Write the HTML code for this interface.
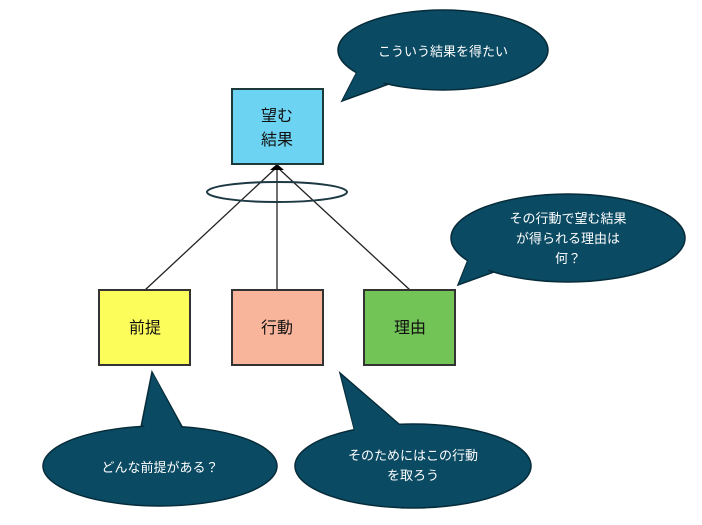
<!DOCTYPE html>
<html><head><meta charset="utf-8"><style>
body{margin:0;background:#fff}
svg{display:block}
text{font-family:"Liberation Sans","Noto Sans CJK JP",sans-serif}
</style></head><body>
<svg width="702" height="525" viewBox="0 0 702 525">
<g stroke="#222" stroke-width="1.3">
<line x1="277" y1="167" x2="145" y2="290"/>
<line x1="277" y1="167" x2="277" y2="290"/>
<line x1="277" y1="167" x2="410" y2="290"/>
</g>
<ellipse cx="277" cy="192" rx="70" ry="10" fill="none" stroke="#1d3a44" stroke-width="2"/>
<polygon points="270,170 284,170 277,164" fill="#000"/>
<rect x="232" y="89" width="91" height="75" fill="#6dd3f2" stroke="#1d3a3a" stroke-width="2"/>
<text x="277" y="121" font-size="16" text-anchor="middle" fill="#111">望む</text>
<text x="277" y="145" font-size="16" text-anchor="middle" fill="#111">結果</text>
<rect x="99" y="290" width="91" height="75" fill="#fcfc5a" stroke="#333" stroke-width="2"/>
<text x="145" y="333" font-size="16" text-anchor="middle" fill="#111">前提</text>
<rect x="232" y="290" width="91" height="75" fill="#f9b49c" stroke="#333" stroke-width="2"/>
<text x="277" y="333" font-size="16" text-anchor="middle" fill="#111">行動</text>
<rect x="364" y="290" width="91" height="75" fill="#72c457" stroke="#333" stroke-width="2"/>
<text x="410" y="333" font-size="16" text-anchor="middle" fill="#111">理由</text>
<g fill="#0b4a63" stroke="#062c3a" stroke-width="1.5">
<polygon points="342,101 358,70 400,80"/>
<ellipse cx="443" cy="50" rx="105" ry="40"/>
<polygon points="458,285 470,255 505,268"/>
<ellipse cx="568" cy="238" rx="117" ry="44"/>
<polygon points="152,372 140,432 185,432"/>
<ellipse cx="160" cy="466" rx="117" ry="40"/>
<polygon points="340,373 355,432 400,425"/>
<ellipse cx="413" cy="466" rx="118" ry="42"/>
</g>
<g fill="#0b4a63">
<polygon points="343,100 360,66 405,74"/>
<polygon points="459,284 472,250 510,260"/>
<polygon points="153,374 142,440 188,440"/>
<polygon points="341,375 357,440 405,430"/>
</g>
<g fill="#fff" font-size="13" text-anchor="middle">
<text x="443" y="56">こういう結果を得たい</text>
<text x="568" y="223">その行動で望む結果</text>
<text x="568" y="243">が得られる理由は</text>
<text x="568" y="263">何？</text>
<text x="160" y="472">どんな前提がある？</text>
<text x="413" y="460">そのためにはこの行動</text>
<text x="413" y="480">を取ろう</text>
</g>
</svg>
</body></html>
